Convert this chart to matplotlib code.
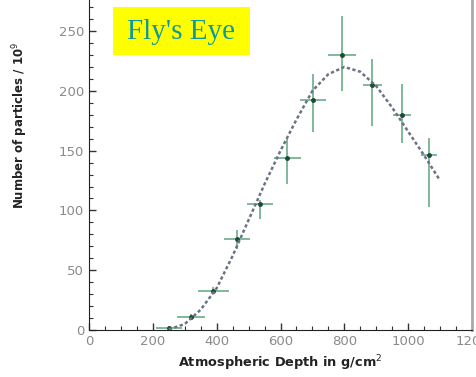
import matplotlib.pyplot as plt
from matplotlib.patches import Rectangle
from matplotlib.ticker import MultipleLocator

depth = [250, 320, 390, 464, 536, 621, 702, 793, 887, 981, 1066]
particles = [2, 11, 33, 76, 105, 144, 192, 230, 205, 180, 146]
depth_err = [40, 45, 50, 42, 42, 42, 40, 44, 30, 28, 25]
part_err_lo = [1, 2, 3, 8, 12, 22, 26, 30, 34, 24, 43]
part_err_hi = [1, 2, 3, 8, 4, 16, 22, 33, 22, 26, 15]

# fitted shower profile
fit_x = [250, 300, 350, 400, 450, 500, 550, 600, 650, 700, 750, 800, 850, 900, 950, 1000, 1050, 1100]
fit_y = [0.5, 5, 17, 35, 62, 92, 122, 150, 176, 200, 214, 220, 216, 204, 186, 166, 146, 125]

W, H = 477, 377
fig = plt.figure(figsize=(W / 100, H / 100), dpi=100)
ax = fig.add_axes([89 / W, 47 / H, 383 / W, 330 / H])

ax.plot(fit_x, fit_y, ls=(0, (1.3, 1.0)), color='#6b7282', lw=1.8, zorder=3)
ax.errorbar(depth, particles, xerr=depth_err, yerr=[part_err_lo, part_err_hi],
            fmt='o', ms=2.5, color='#1f4a35', ecolor='#6aae88', elinewidth=1.2,
            capsize=0, zorder=2)

ax.set_xlim(0, 1200)
ax.set_ylim(0, 276)
ax.xaxis.set_major_locator(MultipleLocator(200))
ax.xaxis.set_minor_locator(MultipleLocator(50))
ax.yaxis.set_major_locator(MultipleLocator(50))
ax.yaxis.set_minor_locator(MultipleLocator(10))
ax.tick_params(which='both', direction='in', color='#333333', labelcolor='#8a8a8a',
               labelsize=9.5, top=False, right=False)
ax.tick_params(which='major', length=5, width=1)
ax.tick_params(which='minor', length=3, width=0.8)

ax.spines['top'].set_visible(False)
ax.spines['left'].set_color('#222222')
ax.spines['bottom'].set_color('#222222')
ax.spines['right'].set_color('#aaaaaa')
ax.spines['right'].set_linewidth(2)

ax.set_xlabel('Atmospheric Depth in g/cm$^2$', fontsize=9.3, fontweight='bold',
              color='#222222', labelpad=4)
ax.set_ylabel('Number of particles / 10$^9$', fontsize=8.5, fontweight='bold',
              color='#222222')
ax.yaxis.set_label_coords(-59 / 383, (330 - 125) / 330)

# yellow label box
fig.patches.append(Rectangle((113 / W, 1 - 55 / H), 137 / W, 48 / H,
                             transform=fig.transFigure, fc='#ffff00', ec='none'))
fig.text(181 / W, 1 - 32 / H, "Fly's Eye", family='Liberation Serif', fontsize=21,
         color='#0f9a9a', va='center', ha='center')

fig.savefig('out.png', dpi=100)
